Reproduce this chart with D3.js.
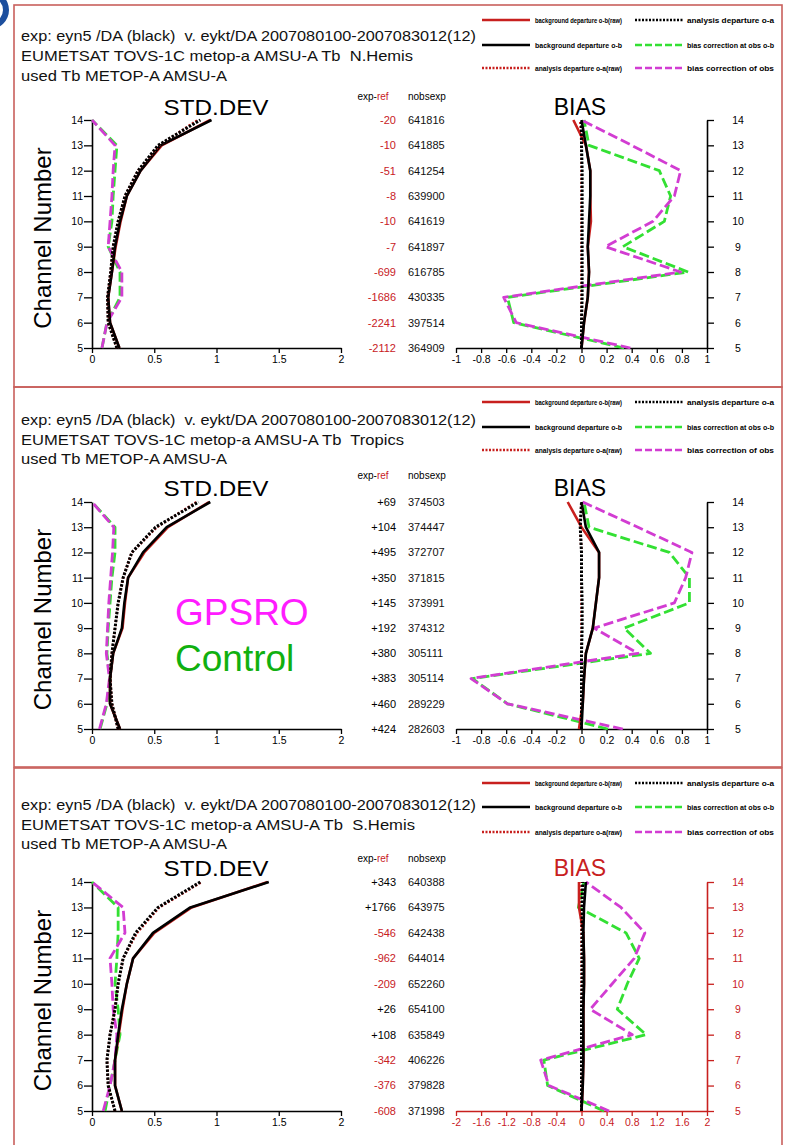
<!DOCTYPE html>
<html><head><meta charset="utf-8">
<script src="https://cdn.jsdelivr.net/npm/d3@7"></script>
<style>
body{margin:0;background:#fff;}
svg{display:block;font-family:"Liberation Sans",Arial,sans-serif;}
</style>
</head><body>
<svg id="c" width="787" height="1145"></svg>
<script>
// ---------- DATA (channel order 5..14) ----------
const channels = [5,6,7,8,9,10,11,12,13,14];
const stdTicks = [0,0.5,1,1.5,2];
const biasTicksSmall = [-1,-0.8,-0.6,-0.4,-0.2,0,0.2,0.4,0.6,0.8,1];
const biasTicksLarge = [-2,-1.6,-1.2,-0.8,-0.4,0,0.4,0.8,1.2,1.6,2];
const regions = ["N.Hemis","Tropics","S.Hemis"];
const legendLabels = ["background departure o-b(raw)","analysis departure o-a",
  "background departure o-b","bias correction at obs o-b",
  "analysis departure o-a(raw)","bias correction of obs"];

// N.Hemis
const nhExpRef = [-2112,-2241,-1686,-699,-7,-10,-8,-51,-10,-20];
const nhNobs   = [364909,397514,430335,616785,641897,641619,639900,641254,641885,641816];
const nhStdBgRaw = [0.22,0.145,0.13,0.16,0.19,0.23,0.28,0.39,0.56,0.95];
const nhStdBg    = [0.22,0.145,0.13,0.16,0.185,0.225,0.28,0.39,0.55,0.96];
const nhStdAnRaw = [0.20,0.13,0.125,0.15,0.17,0.21,0.265,0.37,0.54,0.85];
const nhStdAn    = [0.20,0.13,0.125,0.15,0.17,0.21,0.265,0.37,0.53,0.87];
const nhStdBcObs = [0.08,0.12,0.225,0.225,0.13,0.16,0.17,0.185,0.2,0.0];
const nhStdBc    = [0.08,0.12,0.24,0.24,0.13,0.145,0.16,0.17,0.185,0.0];
const nhBiasBgRaw = [0.0,0.02,0.05,0.06,0.05,0.075,0.07,0.07,0.035,-0.065];
const nhBiasBg    = [0.0,0.02,0.05,0.06,0.05,0.06,0.07,0.07,0.035,0.0];
const nhBiasAnRaw = [0.0,0.0,0.0,0.0,0.0,0.0,0.0,0.0,0.0,-0.01];
const nhBiasAn    = [0.0,0.0,0.005,0.005,0.005,0.005,0.005,0.005,0.0,0.0];
const nhBiasBcObs = [0.34,-0.54,-0.59,0.85,0.33,0.66,0.71,0.62,0.06,0.02];
const nhBiasBc    = [0.39,-0.52,-0.62,0.79,0.19,0.57,0.74,0.79,0.40,0.0];

// Tropics
const trExpRef = [424,460,383,380,192,145,350,495,104,69];
const trNobs   = [282603,289229,305114,305111,374312,373991,371815,372707,374447,374503];
const trStdBgRaw = [0.225,0.145,0.145,0.17,0.245,0.265,0.29,0.42,0.61,0.94];
const trStdBg    = [0.225,0.145,0.145,0.17,0.24,0.26,0.29,0.41,0.6,0.95];
const trStdAnRaw = [0.21,0.16,0.145,0.16,0.185,0.21,0.25,0.32,0.52,0.84];
const trStdAn    = [0.21,0.16,0.145,0.16,0.185,0.21,0.25,0.32,0.51,0.855];
const trStdBcObs = [0.065,0.12,0.145,0.12,0.13,0.145,0.16,0.185,0.185,0.0];
const trStdBc    = [0.06,0.115,0.14,0.115,0.125,0.135,0.15,0.165,0.175,0.0];
const trBiasBgRaw = [-0.02,0.01,0.02,0.035,0.09,0.115,0.14,0.14,0.0,-0.11];
const trBiasBg    = [0.0,0.01,0.02,0.035,0.09,0.115,0.14,0.14,0.035,0.0];
const trBiasAnRaw = [-0.005,0.0,0.0,0.0,0.0,0.0,0.0,0.0,-0.01,0.0];
const trBiasAn    = [0.0,0.0,0.0,0.0,0.005,0.005,0.0,0.0,-0.01,0.0];
const trBiasBcObs = [0.21,-0.59,-0.87,0.55,0.34,0.86,0.86,0.70,0.06,0.02];
const trBiasBc    = [0.33,-0.59,-0.88,0.45,0.10,0.74,0.83,0.88,0.45,0.01];

// S.Hemis
const shExpRef = [-608,-376,-342,108,26,-209,-962,-546,1766,343];
const shNobs   = [371998,379828,406226,635849,654100,652260,644014,642438,643975,640388];
const shStdBgRaw = [0.24,0.185,0.185,0.215,0.245,0.28,0.33,0.5,0.8,1.41];
const shStdBg    = [0.24,0.185,0.185,0.21,0.24,0.28,0.33,0.49,0.79,1.42];
const shStdAnRaw = [0.185,0.13,0.12,0.145,0.185,0.21,0.25,0.36,0.54,0.88];
const shStdAn    = [0.185,0.13,0.12,0.145,0.185,0.21,0.25,0.35,0.53,0.87];
const shStdBcObs = [0.105,0.145,0.185,0.225,0.21,0.185,0.2,0.21,0.21,0.0];
const shStdBc    = [0.09,0.145,0.185,0.2,0.17,0.16,0.145,0.265,0.25,0.0];
const shBiasBgRaw = [0.0,0.02,0.03,0.03,0.03,0.04,0.04,0.03,-0.04,-0.04];
const shBiasBg    = [0.0,0.02,0.03,0.03,0.03,0.04,0.04,0.03,0.04,0.07];
const shBiasAnRaw = [0,0,0,0,0,0,0,0,-0.01,0];
const shBiasAn    = [0,0,0,0,0,0.01,0.01,0.01,0.01,0.02];
const shBiasBcObs = [0.36,-0.54,-0.6,1.03,0.57,0.73,0.92,0.71,-0.05,0.04];
const shBiasBc    = [0.44,-0.52,-0.65,0.81,0.14,0.49,0.84,1.01,0.63,0.07];

// ---------- LAYOUT ----------
const RED = "#c8201e", GREEN = "#33e033", MAG = "#d23cd2", BORDER = "#c9605c";
const styles = {
  bgRaw:{stroke:RED, w:2.6, dash:null},
  bg:{stroke:"#000", w:2.6, dash:null},
  anRaw:{stroke:RED, w:2.6, dash:"2,2"},
  an:{stroke:"#000", w:3, dash:"2.5,1.5"},
  bcObs:{stroke:GREEN, w:2.8, dash:"10,4"},
  bc:{stroke:MAG, w:2.8, dash:"10,4"}
};
const drawOrder = ["bcObs","bc","bgRaw","bg","anRaw","an"];
const panels = [
  {region:regions[0], expRef:nhExpRef, nobs:nhNobs,
   std:{bgRaw:nhStdBgRaw,bg:nhStdBg,anRaw:nhStdAnRaw,an:nhStdAn,bcObs:nhStdBcObs,bc:nhStdBc},
   bias:{bgRaw:nhBiasBgRaw,bg:nhBiasBg,anRaw:nhBiasAnRaw,an:nhBiasAn,bcObs:nhBiasBcObs,bc:nhBiasBc},
   box:[5,387], head:[36,56,76], line2W:392, legend:[20,45,68], title:107, colHead:96,
   top:120, bottom:348, biasDom:[-1,1], biasTicks:biasTicksSmall, redBias:false},
  {region:regions[1], expRef:trExpRef, nobs:trNobs,
   std:{bgRaw:trStdBgRaw,bg:trStdBg,anRaw:trStdAnRaw,an:trStdAn,bcObs:trStdBcObs,bc:trStdBc},
   bias:{bgRaw:trBiasBgRaw,bg:trBiasBg,anRaw:trBiasAnRaw,an:trBiasAn,bcObs:trBiasBcObs,bc:trBiasBc},
   box:[387,767], head:[420,440,459], line2W:383, legend:[402,427,450], title:488, colHead:475,
   top:502, bottom:729, biasDom:[-1,1], biasTicks:biasTicksSmall, redBias:false},
  {region:regions[2], expRef:shExpRef, nobs:shNobs,
   std:{bgRaw:shStdBgRaw,bg:shStdBg,anRaw:shStdAnRaw,an:shStdAn,bcObs:shStdBcObs,bc:shStdBc},
   bias:{bgRaw:shBiasBgRaw,bg:shBiasBg,anRaw:shBiasAnRaw,an:shBiasAn,bcObs:shBiasBcObs,bc:shBiasBc},
   box:[768,1160], head:[805,825,844], line2W:394, legend:[783,807,832], title:868, colHead:858,
   top:882, bottom:1111, biasDom:[-2,2], biasTicks:biasTicksLarge, redBias:true}
];

const svg = d3.select("#c");

// blue corner decoration
svg.append("path").attr("d", d3.arc()({innerRadius:13,outerRadius:19,startAngle:0,endAngle:Math.PI}))
  .attr("transform","translate(-10,10)").attr("fill","#1d4f9e");

panels.forEach((p,pi) => {
  const g = svg.append("g");
  g.append("rect").attr("x",14).attr("y",p.box[0]).attr("width",768).attr("height",p.box[1]-p.box[0])
    .attr("fill","none").attr("stroke",BORDER).attr("stroke-width",1.6);

  const lines = [
    "exp: eyn5 /DA (black)  v. eykt/DA 2007080100-2007083012(12)",
    "EUMETSAT TOVS-1C metop-a AMSU-A Tb  " + p.region,
    "used Tb METOP-A AMSU-A"];
  const widths = [455, p.line2W, 206];
  lines.forEach((t,i) => {
    g.append("text").attr("x",21).attr("y",p.head[i]).attr("dy","0.36em")
      .attr("font-size",15).attr("textLength",widths[i]).attr("lengthAdjust","spacingAndGlyphs")
      .style("white-space","pre").attr("fill","#111").text(t);
  });

  // legend
  const legCols = [[482,530,535],[635,683,687]];
  const legKeys = [["bgRaw","an"],["bg","bcObs"],["anRaw","bc"]];
  legKeys.forEach((row,ri) => {
    row.forEach((k,ci) => {
      const s = styles[k], c = legCols[ci], yy = p.legend[ri];
      g.append("line").attr("x1",c[0]).attr("x2",c[1]).attr("y1",yy).attr("y2",yy)
        .attr("stroke",s.stroke).attr("stroke-width",2.4)
        .attr("stroke-dasharray", s.dash ? (k.startsWith("bc")?"7,3":"2,1.5") : null);
      g.append("text").attr("x",c[2]).attr("y",yy).attr("dy","0.35em").attr("font-size",7.5)
        .attr("font-weight","bold")
        .attr("textLength",87).attr("lengthAdjust","spacingAndGlyphs").attr("fill","#000")
        .text(legendLabels[ri*2+ci]);
    });
  });

  const y = d3.scaleLinear().domain([5,14]).range([p.bottom,p.top]);
  const xs = d3.scaleLinear().domain([0,2]).range([92,341]);
  const xb = d3.scaleLinear().domain(p.biasDom).range([456,707]);

  g.append("text").attr("x",216).attr("y",p.title).attr("dy","0.36em").attr("text-anchor","middle")
    .attr("font-size",22).attr("textLength",105).attr("lengthAdjust","spacingAndGlyphs").text("STD.DEV");
  g.append("text").attr("x",580).attr("y",p.title).attr("dy","0.36em").attr("text-anchor","middle")
    .attr("font-size",23).attr("fill",p.redBias?RED:"#000").text("BIAS");

  g.append("text").attr("transform",`translate(51,${(p.top+p.bottom)/2+4}) rotate(-90)`)
    .attr("text-anchor","middle").attr("font-size",24).text("Channel Number");

  const ax1 = g.append("g").attr("transform",`translate(92,0)`)
    .call(d3.axisLeft(y).tickValues(channels).tickSize(8).tickSizeOuter(0).tickPadding(1).tickFormat(d3.format("d")));
  const ax2 = g.append("g").attr("transform",`translate(0,${p.bottom})`)
    .call(d3.axisBottom(xs).tickValues(stdTicks).tickSize(5).tickSizeOuter(0).tickPadding(3).tickFormat(d=>String(d)));
  const bcol = p.redBias ? RED : "#000";
  const ax3 = g.append("g").attr("transform",`translate(0,${p.bottom})`)
    .call(d3.axisBottom(xb).tickValues(p.biasTicks).tickSize(5).tickSizeOuter(0).tickPadding(3).tickFormat(d=>String(d)));
  const ax4 = g.append("g").attr("transform",`translate(707,0)`)
    .call(d3.axisRight(y).tickValues(channels).tickSize(7).tickSizeOuter(0).tickFormat(d3.format("d")));
  ax4.selectAll("text").attr("x",31).attr("text-anchor","middle");
  [ax1,ax2,ax3,ax4].forEach((a,i) => {
    const col = i>=2 ? bcol : "#000";
    a.select(".domain").attr("stroke",col).attr("stroke-width",1.6);
    a.selectAll(".tick line").attr("stroke",col).attr("stroke-width",1.3);
    a.selectAll("text").attr("font-size",10.5).attr("fill",col)
      .attr("font-family","'Liberation Sans',Arial,sans-serif");
  });

  g.append("text").attr("x",373).attr("y",p.colHead).attr("dy","0.35em").attr("text-anchor","middle")
    .attr("font-size",10).call(t => {
      t.append("tspan").text("exp-");
      t.append("tspan").attr("fill",RED).text("ref");
    });
  g.append("text").attr("x",408).attr("y",p.colHead).attr("dy","0.35em").attr("font-size",10).text("nobsexp");
  channels.forEach((ch,i) => {
    const v = p.expRef[i];
    g.append("text").attr("x",396).attr("y",y(ch)).attr("dy","0.35em").attr("text-anchor","end")
      .attr("font-size",11).attr("fill", v<0 ? RED : "#000").text((v>0?"+":"")+v);
    g.append("text").attr("x",408).attr("y",y(ch)).attr("dy","0.35em")
      .attr("font-size",11).attr("fill","#111").text(p.nobs[i]);
  });

  const drawSeries = (x, data) => {
    drawOrder.forEach(k => {
      const s = styles[k];
      const pts = channels.map((c,i) => [x(data[k][i]), y(c)]);
      g.append("path").attr("d", d3.line()(pts)).attr("fill","none")
        .attr("stroke",s.stroke).attr("stroke-width",s.w).attr("stroke-dasharray",s.dash)
        .attr("stroke-linejoin","round");
    });
  };
  drawSeries(xs, p.std);
  drawSeries(xb, p.bias);

  if (pi === 1) {
    g.append("text").attr("x",175).attr("y",612).attr("dy","0.36em").attr("font-size",37)
      .attr("fill","#ff1cff").text("GPSRO");
    g.append("text").attr("x",175).attr("y",658).attr("dy","0.36em").attr("font-size",37)
      .attr("fill","#10b010").text("Control");
  }
});
</script>
</body></html>
